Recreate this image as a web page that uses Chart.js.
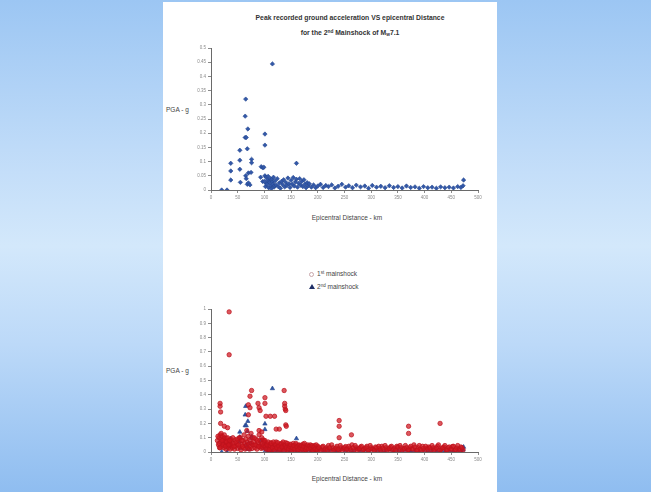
<!DOCTYPE html>
<html>
<head>
<title>PGA vs epicentral distance</title>
<style type="text/css">
  html, body { margin: 0; padding: 0; }
  body {
    width: 651px; height: 492px; overflow: hidden; position: relative;
    background: linear-gradient(to bottom, #9cc6f3 0%, #c4def9 35%, #d3e8fb 50%, #bcd9f8 70%, #8fbdf0 100%);
    font-family: "Liberation Sans", Arial, sans-serif;
  }
  #panel { position: absolute; left: 163px; top: 2px; width: 334px; height: 490px; background: #fff; }
  .box { position: absolute; left: 163px; width: 334px; height: 180px; }
  #box1 { top: 40px; }
  #box2 { top: 300px; }
  .txt { position: absolute; white-space: nowrap; color: #444; font-size: 6.5px; line-height: 1; }
  .title { font-weight: bold; color: #333; font-size: 6.8px; transform: translateX(-50%); }
  .center { transform: translateX(-50%); }
  sup { font-size: 70%; vertical-align: 0.5em; line-height: 0; }
  sub { font-size: 70%; vertical-align: -0.3em; line-height: 0; }
  .mk1 { position: absolute; width: 3px; height: 3px; border: 1px solid #c9a6aa; border-radius: 50%; }
  .mk2 { position: absolute; width: 0; height: 0; border-left: 3px solid transparent; border-right: 3px solid transparent; border-bottom: 5px solid #1f2f66; }
</style>
</head>
<body>
<div id="panel"></div>

<div class="txt title" style="left:350px; top:15px;">Peak recorded ground acceleration VS epicentral Distance</div>
<div class="txt title" style="left:350px; top:30px;">for the 2<sup>nd</sup> Mainshock of M<sub>w</sub>7.1</div>
<div class="txt" style="left:166px; top:107px;">PGA - g</div>
<div class="txt center" style="left:347px; top:215px;">Epicentral Distance - km</div>

<div class="mk1" style="left:309px; top:272px;"></div>
<div class="txt" style="left:317px; top:271px;">1<sup>st</sup> mainshock</div>
<div class="mk2" style="left:309px; top:284px;"></div>
<div class="txt" style="left:317px; top:284px;">2<sup>nd</sup> mainshock</div>

<div class="txt" style="left:166px; top:368px;">PGA - g</div>
<div class="txt center" style="left:347px; top:476px;">Epicentral Distance - km</div>

<div id="box1" class="box"><canvas id="chart1"></canvas></div>
<div id="box2" class="box"><canvas id="chart2"></canvas></div>

<script src="https://cdn.jsdelivr.net/npm/chart.js@4.4.1/dist/chart.umd.min.js"></script>
<script>
// epicentral distance (km) and PGA (g)
var dist2nd = [20, 30, 37, 37, 37, 54, 54, 54, 55, 64, 64, 65, 65, 66, 66, 68, 68, 69, 70, 70, 73, 75, 76, 76,
  93, 94, 97, 97, 99, 101, 101, 115, 160, 473,
  100, 101, 102, 103, 104, 105, 106, 107, 108, 109, 110, 111, 112, 113, 114, 115, 116, 117, 118, 119,
  120, 122, 124, 126, 128, 130, 132, 134, 136, 138, 140, 142, 144, 146, 148, 150, 152, 154, 156, 158,
  160, 162, 164, 166, 168, 170, 172, 174, 176, 178, 180, 182, 184, 188, 192, 196, 200, 205, 210, 215,
  220, 226, 232, 238, 245, 252, 258, 265, 272, 280, 288, 295, 302, 310, 318, 326, 334, 342, 350, 358,
  366, 374, 382, 390, 398, 406, 414, 422, 430, 438, 446, 454, 462, 468, 472];
var pga2nd = [0, 0, 0.094, 0.067, 0.035, 0.14, 0.105, 0.073, 0.027, 0.26, 0.185, 0.32, 0.05, 0.185, 0.04, 0.145, 0.02, 0.215, 0.06, 0.025, 0.018, 0.062, 0.108, 0.096,
  0.045, 0.082, 0.078, 0.03, 0.08, 0.197, 0.158, 0.444, 0.094, 0.035,
  0.03, 0.05, 0.012, 0.045, 0.022, 0.02, 0.035, 0.048, 0.008, 0.03, 0.026, 0.04, 0.015, 0.005, 0.038, 0.028, 0.02, 0.045, 0.01, 0.015,
  0.032, 0.018, 0.04, 0.012, 0.025, 0.006, 0.03, 0.019, 0.036, 0.011, 0.027, 0.016, 0.042, 0.022, 0.009, 0.034, 0.02, 0.044, 0.014, 0.028,
  0.038, 0.01, 0.024, 0.04, 0.017, 0.03, 0.012, 0.036, 0.02, 0.008, 0.026, 0.015, 0.022, 0.01, 0.018, 0.008, 0.014, 0.02, 0.009, 0.016,
  0.012, 0.018, 0.007, 0.013, 0.02, 0.01, 0.015, 0.008, 0.017, 0.011, 0.014, 0.006, 0.016, 0.01, 0.013, 0.008, 0.015, 0.009, 0.012, 0.007,
  0.014, 0.009, 0.011, 0.006, 0.012, 0.008, 0.01, 0.006, 0.011, 0.008, 0.01, 0.007, 0.012, 0.009, 0.015];

var dist1st = [34, 34, 17, 17, 18, 18, 25, 31, 76, 73, 70, 73, 70, 88, 90, 92, 101, 101, 103, 111, 119, 137, 138, 138, 139, 140, 140, 141,
  122, 128, 90, 95, 240, 240, 240, 263, 370, 370, 429,
  12, 14, 15, 16, 17, 18, 19, 20, 21, 22, 23, 24, 25, 26, 27, 28, 29, 30, 31, 32, 33, 34, 35, 36, 37, 38, 39, 40,
  42, 44, 45, 46, 48, 50, 52, 54, 55, 56, 58, 60, 61, 62, 63, 64, 65, 66, 67, 68, 69, 70, 71, 72, 73, 74, 75, 76,
  77, 78, 79, 80, 82, 84, 85, 86, 88, 90, 91, 92, 93, 94, 95, 96, 97, 98, 99, 100,
  13, 15, 17, 19, 21, 23, 25, 27, 29, 31, 33, 35, 41, 43, 47, 49, 51, 53, 57, 59, 81, 83, 87, 89,
  102, 104, 106, 108, 110, 112, 114, 116, 118, 120, 122, 124, 126, 128, 130, 132, 134, 136, 138, 140, 142, 144, 146, 148,
  150, 152, 154, 156, 158, 160, 162, 164, 166, 168, 170, 172, 174, 176, 178, 180, 182, 184, 186, 188, 190, 192, 194, 196, 198, 200,
  101, 103, 105, 107, 109, 111, 113, 115, 117, 119, 121, 123, 125, 127, 129, 131, 133, 135, 137, 139, 141, 143, 145, 147, 149,
  151, 153, 155, 157, 159, 161, 163, 165, 167, 169, 171, 173, 175, 177, 179, 181, 183, 185, 187, 189, 191, 193, 195, 197, 199,
  204, 208, 212, 216, 220, 224, 228, 232, 236, 240, 244, 248, 252, 256, 260, 264, 268, 272, 276, 280, 284, 288, 292, 296,
  300, 304, 308, 312, 316, 320, 324, 328, 332, 336, 340, 344, 348, 352, 356, 360, 364, 368, 372, 376, 380, 384, 388, 392,
  396, 400, 404, 408, 412, 416, 420, 424, 428, 432, 436, 440, 444, 448, 452, 456, 460, 464, 468, 472,
  202, 206, 210, 214, 218, 222, 226, 230, 234, 238, 242, 246, 250, 254, 258, 262, 266, 270, 274, 278, 282, 286, 290, 294,
  298, 302, 306, 310, 314, 318, 322, 326, 330, 334, 338, 342, 346, 350, 354, 358, 362, 366, 370, 374, 378, 382, 386, 390,
  394, 398, 402, 406, 410, 414, 418, 422, 426, 430, 434, 438, 442, 446, 450, 454, 458, 462, 466, 470];
var pga1st = [0.98, 0.68, 0.34, 0.32, 0.28, 0.2, 0.18, 0.17, 0.43, 0.39, 0.33, 0.31, 0.26, 0.34, 0.31, 0.29, 0.38, 0.34, 0.25, 0.25, 0.25, 0.43, 0.34, 0.32, 0.3, 0.29, 0.19, 0.18,
  0.16, 0.16, 0.15, 0.14, 0.22, 0.18, 0.1, 0.12, 0.18, 0.13, 0.2,
  0.08, 0.05, 0.1, 0.03, 0.12, 0.07, 0.09, 0.04, 0.11, 0.06, 0.085, 0.03, 0.1, 0.05, 0.075, 0.02, 0.095, 0.06, 0.04, 0.08, 0.03, 0.065, 0.05, 0.02, 0.09, 0.045, 0.07, 0.03,
  0.06, 0.02, 0.085, 0.04, 0.055, 0.025, 0.07, 0.035, 0.1, 0.015, 0.05, 0.08, 0.03, 0.12, 0.06, 0.02, 0.09, 0.045, 0.15, 0.07, 0.03, 0.11, 0.055, 0.02, 0.085, 0.04, 0.13, 0.06,
  0.025, 0.1, 0.05, 0.07, 0.03, 0.09, 0.045, 0.02, 0.065, 0.12, 0.035, 0.08, 0.05, 0.025, 0.1, 0.06, 0.03, 0.085, 0.045, 0.07,
  0.11, 0.06, 0.03, 0.13, 0.08, 0.05, 0.12, 0.04, 0.07, 0.1, 0.05, 0.08, 0.1, 0.04, 0.07, 0.09, 0.05, 0.1, 0.08, 0.04, 0.1, 0.05, 0.08, 0.04,
  0.04, 0.06, 0.02, 0.05, 0.03, 0.065, 0.015, 0.045, 0.055, 0.025, 0.07, 0.035, 0.05, 0.01, 0.04, 0.06, 0.02, 0.05, 0.03, 0.065, 0.015, 0.045, 0.035, 0.055,
  0.02, 0.04, 0.06, 0.01, 0.035, 0.05, 0.025, 0.045, 0.015, 0.04, 0.03, 0.055, 0.01, 0.035, 0.045, 0.02, 0.04, 0.03, 0.05, 0.015, 0.035, 0.025, 0.045, 0.01, 0.03, 0.04,
  0.08, 0.02, 0.05, 0.07, 0.015, 0.045, 0.06, 0.03, 0.07, 0.01, 0.05, 0.03, 0.065, 0.04, 0.02, 0.055, 0.035, 0.07, 0.01, 0.045, 0.03, 0.06, 0.02, 0.04, 0.05,
  0.01, 0.03, 0.045, 0.02, 0.06, 0.035, 0.015, 0.05, 0.03, 0.045, 0.02, 0.04, 0.06, 0.015, 0.03, 0.05, 0.02, 0.04, 0.03, 0.045, 0.01, 0.035, 0.02, 0.05, 0.015,
  0.02, 0.035, 0.012, 0.03, 0.045, 0.015, 0.03, 0.02, 0.04, 0.01, 0.03, 0.022, 0.038, 0.012, 0.028, 0.05, 0.015, 0.03, 0.02, 0.035, 0.01, 0.025, 0.04, 0.015,
  0.03, 0.02, 0.035, 0.01, 0.025, 0.04, 0.015, 0.03, 0.02, 0.035, 0.01, 0.028, 0.04, 0.015, 0.03, 0.02, 0.045, 0.012, 0.03, 0.022, 0.05, 0.015, 0.03, 0.02,
  0.04, 0.01, 0.028, 0.035, 0.015, 0.03, 0.02, 0.04, 0.012, 0.025, 0.035, 0.015, 0.03, 0.02, 0.038, 0.01, 0.028, 0.02, 0.035, 0.015,
  0.03, 0.01, 0.04, 0.02, 0.015, 0.03, 0.05, 0.012, 0.028, 0.018, 0.045, 0.01, 0.03, 0.02, 0.04, 0.015, 0.03, 0.045, 0.01, 0.025, 0.04, 0.018, 0.03, 0.01,
  0.045, 0.02, 0.012, 0.03, 0.04, 0.015, 0.028, 0.045, 0.01, 0.025, 0.04, 0.018, 0.012, 0.035, 0.045, 0.01, 0.025, 0.03, 0.015, 0.04, 0.02, 0.035, 0.012, 0.045,
  0.01, 0.025, 0.04, 0.018, 0.03, 0.045, 0.01, 0.028, 0.05, 0.015, 0.03, 0.045, 0.012, 0.035, 0.02, 0.04, 0.015, 0.045, 0.01, 0.03];

var xTicks = [0, 50, 100, 150, 200, 250, 300, 350, 400, 450, 500];

function pts(xs, ys) {
  var out = [];
  for (var i = 0; i < xs.length; i++) out.push({x: xs[i], y: ys[i]});
  return out;
}

function axisOpts(min, max, step, size) {
  return {
    type: 'linear', min: min, max: max,
    grid: { display: true, drawOnChartArea: false, drawTicks: true, tickLength: 3, color: '#8a8a8a' },
    border: { display: true, color: '#6a6a6a', width: 1 },
    ticks: {
      stepSize: step, color: '#8a8a8a', padding: 2,
      font: { size: 4.5, family: 'Liberation Sans, Arial, sans-serif' },
      callback: function (v) { return +v.toFixed(2); }
    },
    afterFit: size
  };
}

function makeChart(id, datasets, yMax, yStep, padTop, xHeight) {
  var xs = axisOpts(0, 500, 50, function (s) { s.height = xHeight; });
  xs.ticks.maxRotation = 0;
  xs.afterBuildTicks = function (s) { s.ticks = xTicks.map(function (v) { return {value: v}; }); };
  var ys = axisOpts(0, yMax, yStep, function (s) { s.width = 48; });
  return new Chart(document.getElementById(id), {
    type: 'scatter',
    data: { datasets: datasets },
    options: {
      responsive: true, maintainAspectRatio: false, animation: false,
      layout: { padding: { left: 0, right: 19, top: padTop, bottom: 0 } },
      plugins: { legend: { display: false }, tooltip: { enabled: false } },
      scales: { x: xs, y: ys }
    }
  });
}

makeChart('chart1', [{
  label: '2nd mainshock',
  data: pts(dist2nd, pga2nd),
  pointStyle: 'rectRot', pointRadius: 2.2,
  backgroundColor: '#3358a8', borderColor: '#24468f', borderWidth: 0.6
}], 0.5, 0.05, 8, 30);

// red drawn over the blue triangles, as in the picture
makeChart('chart2', [{
  label: '1st mainshock',
  data: pts(dist1st, pga1st),
  pointStyle: 'circle', pointRadius: 2.2,
  backgroundColor: 'rgba(205, 22, 32, 0.72)', borderColor: 'rgba(190, 18, 28, 0.9)', borderWidth: 0.8
}, {
  label: '2nd mainshock',
  data: pts(dist2nd, pga2nd),
  pointStyle: 'triangle', pointRadius: 2.5,
  backgroundColor: '#2f55a6', borderColor: '#203f88', borderWidth: 0.6
}], 1, 0.1, 9, 28);
</script>
</body>
</html>
